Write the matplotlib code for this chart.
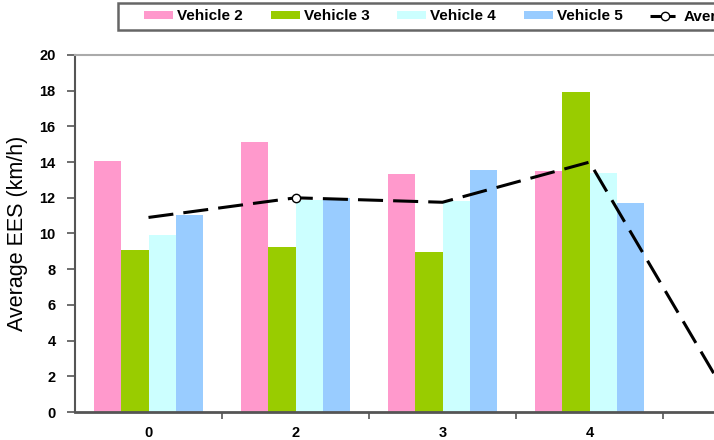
import numpy as np
import matplotlib
matplotlib.use("Agg")
import matplotlib.pyplot as plt
from matplotlib.patches import Rectangle

plt.rcParams['font.family'] = ['Liberation Sans', 'DejaVu Sans']

# chart data
categories = ['0', '2', '3', '4', '']
series_names = ['Vehicle 2', 'Vehicle 3', 'Vehicle 4', 'Vehicle 5']
vehicle2 = [14.05, 15.1, 13.35, 13.5]
vehicle3 = [9.1, 9.25, 8.95, 17.9]
vehicle4 = [9.9, 11.9, 11.8, 13.4]
vehicle5 = [11.05, 12.0, 13.55, 11.7]
average = [10.9, 12.0, 11.75, 14.0, 0.0]

colors = ['#FF99CC', '#99CC00', '#CCFFFF', '#99CCFF']


def main():
    W, H = 714, 440
    fig = plt.figure(figsize=(W / 100, H / 100), dpi=100)
    ax = fig.add_axes([75 / W, 28 / H, (W - 75) / W, 357 / H])

    bar_w = 0.184
    x = np.arange(len(vehicle2))
    bars = []
    for i, vals in enumerate([vehicle2, vehicle3, vehicle4, vehicle5]):
        b = ax.bar(x + (i - 1.5) * bar_w, vals, width=bar_w, color=colors[i],
                   edgecolor='none', label=series_names[i], zorder=2)
        bars.append(b)

    xl = np.arange(len(average))
    line, = ax.plot(xl, average, color='black', lw=2.2, linestyle=(0, (8.2, 3.3)),
                    marker='o', markevery=[1], markersize=6, markerfacecolor='white',
                    markeredgecolor='black', markeredgewidth=1.0, zorder=3,
                    label='Average')

    ax.set_yticks(range(0, 21, 2))
    ax.set_xticks(range(len(categories)))
    ax.set_xticklabels(categories)
    ax.set_xticks(np.arange(0.5, 4.5, 1), minor=True)
    # limits after the ticks, otherwise set_xticks widens the view
    ax.set_xlim(-0.5, (W - 148.5) / 147)
    ax.set_ylim(0, 20)

    ax.tick_params(axis='y', direction='out', length=6, width=1.2, pad=8,
                   color='#555555', labelsize=10.5)
    ax.tick_params(axis='x', which='major', length=0, pad=10.4, labelsize=10.5)
    ax.tick_params(axis='x', which='minor', direction='out', length=5, width=1.2,
                   color='#555555')
    for lab in ax.get_xticklabels() + ax.get_yticklabels():
        lab.set_fontweight('bold')

    ax.set_ylabel('Average EES (km/h)', fontsize=15.5, labelpad=8)

    ax.spines['left'].set_color('#555555')
    ax.spines['left'].set_linewidth(1.5)
    ax.spines['bottom'].set_color('#555555')
    ax.spines['bottom'].set_linewidth(2)
    ax.spines['top'].set_color('#AAAAAA')
    ax.spines['top'].set_linewidth(1.5)
    ax.spines['right'].set_visible(False)

    # legend frame, runs past the right edge like in the source image
    fig.patches.append(Rectangle((118 / W, 1 - 30 / H), 1.0, 27 / H,
                                 transform=fig.transFigure, facecolor='white',
                                 edgecolor='#666666', linewidth=1.8, zorder=5))
    leg = fig.legend(handles=bars + [line], labels=series_names + ['Average'],
                     loc='center left', bbox_to_anchor=(144 / W, 1 - 16.5 / H),
                     ncol=5, frameon=False, borderpad=0, borderaxespad=0,
                     handlelength=1.9, handleheight=0.45, handletextpad=0.28,
                     columnspacing=1.8, prop={'weight': 'bold', 'size': 11})
    leg.set_zorder(6)

    fig.savefig('out.png', dpi=100)


if __name__ == "__main__":
    main()
